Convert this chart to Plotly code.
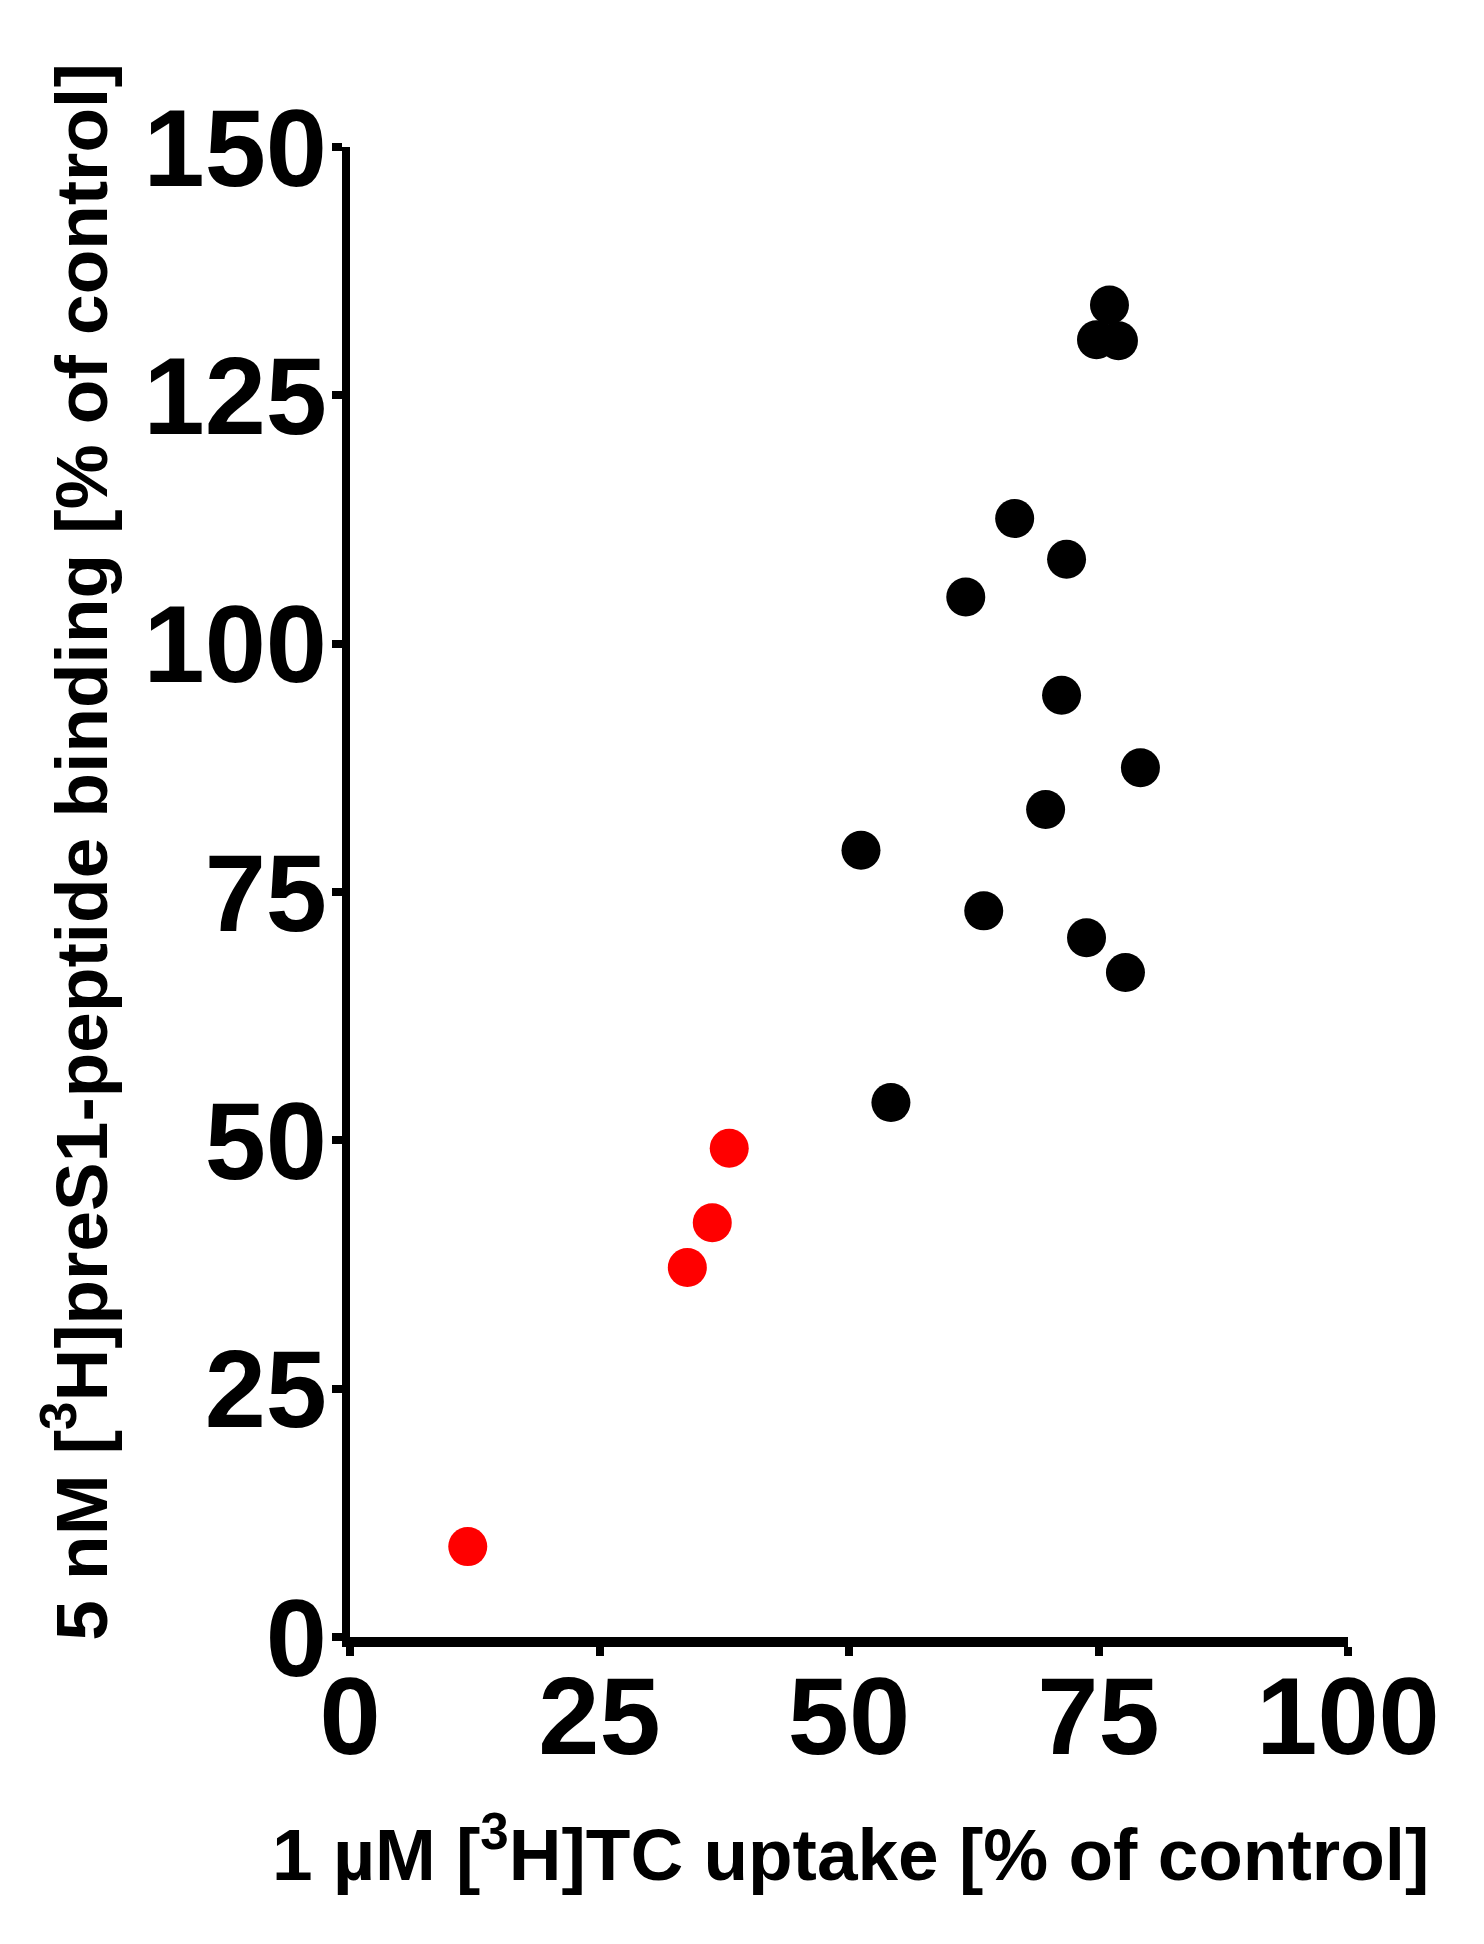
import plotly.graph_objects as go

# Uptake (x) vs binding (y), both in % of control
red_x = [11.8, 33.8, 36.3, 38.0]
red_y = [9.1, 37.2, 41.7, 49.2]

black_x = [54.2, 51.2, 63.5, 73.8, 77.7, 69.7, 79.2, 71.3, 61.7, 66.6, 71.8, 76.1, 74.8, 77.0]
black_y = [53.8, 79.2, 73.1, 70.4, 66.9, 83.3, 87.5, 94.8, 104.7, 112.6, 108.5, 134.1, 130.6, 130.5]

x_ticks = [0, 25, 50, 75, 100]
y_ticks = [0, 25, 50, 75, 100, 125, 150]

x_title = '1 µM [<sup>3</sup>H]TC uptake [% of control]'
y_title = '5 nM [<sup>3</sup>H]preS1-peptide binding [% of control]'

FONT = "Liberation Sans, Arial, sans-serif"

fig = go.Figure()

fig.add_trace(go.Scatter(
    x=black_x, y=black_y, mode='markers',
    marker=dict(color='black', size=39, line=dict(width=0)),
    showlegend=False
))

fig.add_trace(go.Scatter(
    x=red_x, y=red_y, mode='markers',
    marker=dict(color='#ff0000', size=39, line=dict(width=0)),
    showlegend=False
))

# axis titles as annotations so they can sit exactly where the original has them
fig.add_annotation(
    text=x_title, xref='paper', yref='paper', x=0.502, y=-0.142,
    xanchor='center', yanchor='middle', showarrow=False,
    font=dict(family=FONT, size=73, weight='bold', color='black')
)
fig.add_annotation(
    text=y_title, xref='paper', yref='paper', x=-0.2745, y=0.527,
    xanchor='center', yanchor='middle', showarrow=False, textangle=-90,
    font=dict(family=FONT, size=73, weight='bold', color='black')
)

fig.update_layout(
    width=1484,
    height=1944,
    paper_bgcolor='white',
    plot_bgcolor='white',
    margin=dict(l=342, r=144, t=139, b=315),
    font=dict(family=FONT, color='black'),
    xaxis=dict(
        range=[0, 100],
        tickvals=x_ticks,
        ticktext=[str(v) for v in x_ticks],
        showgrid=False, zeroline=False,
        showline=True, linecolor='black', linewidth=10,
        ticks='outside', ticklen=9, tickwidth=8, tickcolor='black',
        tickfont=dict(family=FONT, size=110, weight='bold'),
        ticklabelstandoff=-34,
        automargin=False,
    ),
    yaxis=dict(
        range=[0, 150],
        tickvals=y_ticks,
        ticktext=[str(v) for v in y_ticks],
        showgrid=False, zeroline=False,
        showline=True, linecolor='black', linewidth=8,
        ticks='outside', ticklen=10, tickwidth=8, tickcolor='black',
        tickfont=dict(family=FONT, size=110, weight='bold'),
        ticklabelstandoff=-17,
        automargin=False,
    ),
)

fig.write_html("out.html")
